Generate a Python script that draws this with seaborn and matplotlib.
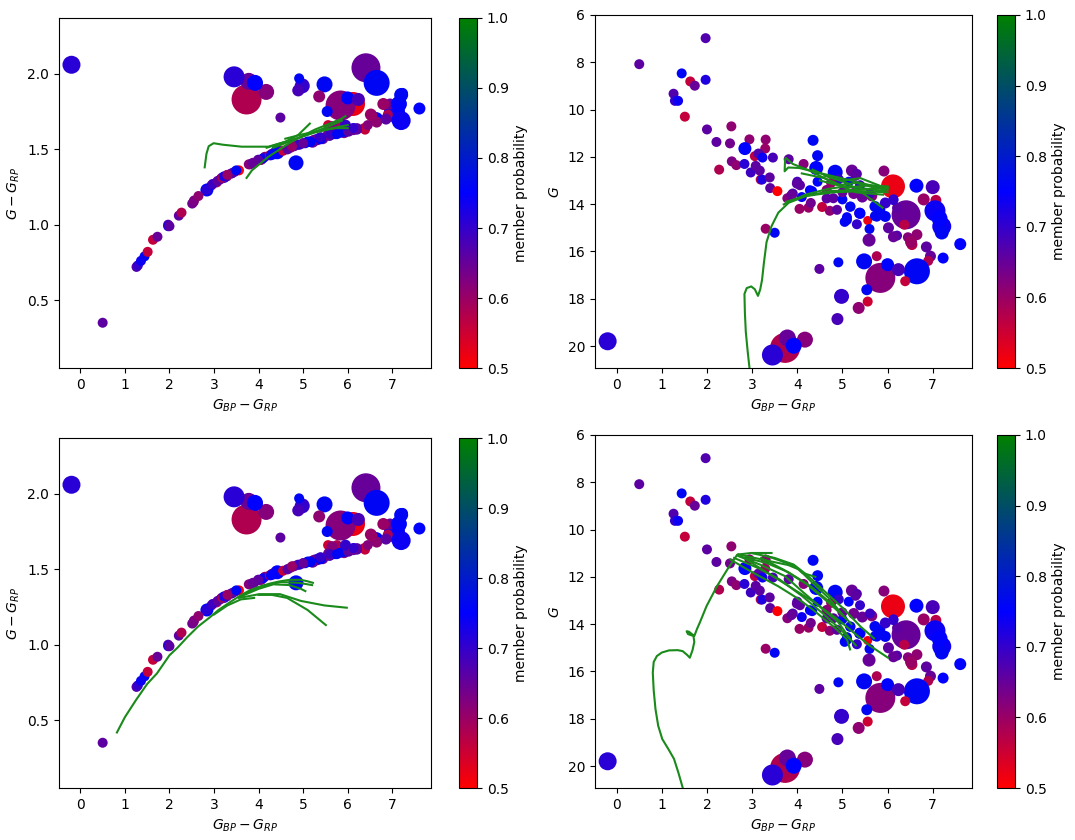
# Colour-magnitude / colour-colour diagrams of cluster members with isochrone tracks
import numpy as np
import pandas as pd
import matplotlib
matplotlib.use("Agg")
import matplotlib.pyplot as plt
from matplotlib.colors import LinearSegmentedColormap, Normalize
from matplotlib.cm import ScalarMappable
import seaborn as sns

# --- stars: colour BP-RP, colour G-RP, magnitude G, membership probability, dot diameter (px)
bp_rp = [0.50, 1.97, 1.44, 1.63, 1.73, 1.97, 1.26, 1.29, 1.36, 1.51,
         2.00, 2.54, 2.21, 2.51, 2.94, 3.30, 2.84, 3.29, 3.06, 3.14,
         3.23, 3.46, 2.27, 2.55, 2.65, 2.83, 2.97, 3.08, 3.17, 3.19,
         3.22, 3.39, 3.40, 3.56, 3.30, 3.50, 3.81, 4.35, 4.45, 4.42,
         4.14, 4.84, 5.21, 5.32, 5.92, 6.12, 6.64, 7.00, 7.07, 7.05,
         7.20, 6.41, 6.37, 7.61, 7.23, 6.95, 6.90, 6.65, 5.84, 5.48,
         5.76, 6.00, 6.24, 6.39, 5.54, 4.98, 5.56, 5.36, 4.89, 4.49,
         4.91, 3.73, 3.78, 4.17, 3.45, 3.92, -0.20, 3.78, 3.90, 4.00,
         4.06, 4.05, 4.10, 4.25, 4.30, 4.33, 4.45, 4.55, 4.65, 4.72,
         4.80, 4.88, 4.92, 5.00, 5.05, 5.10, 5.14, 5.18, 5.25, 5.32,
         5.38, 5.44, 5.56, 5.60, 5.59, 5.72, 5.72, 5.84, 5.95, 6.02,
         6.21, 6.13, 6.21, 6.54, 6.65, 6.86, 5.65, 5.95, 6.45, 7.15,
         7.20, 6.80, 6.52, 5.29, 3.99, 3.87, 5.17, 5.39, 5.10, 6.13,
         4.65, 5.39, 5.61, 4.28, 6.13, 5.76, 5.00, 4.75]
g_rp = [0.35, 1.00, 0.79, 0.90, 0.92, 0.99, 0.72, 0.73, 0.76, 0.82,
        0.99, 1.15, 1.06, 1.14, 1.26, 1.33, 1.23, 1.32, 1.28, 1.30,
        1.31, 1.35, 1.08, 1.16, 1.19, 1.23, 1.27, 1.29, 1.31, 1.31,
        1.32, 1.34, 1.34, 1.36, 1.33, 1.36, 1.40, 1.47, 1.48, 1.48,
        1.45, 1.41, 1.55, 1.56, 1.61, 1.80, 1.70, 1.73, 1.74, 1.75,
        1.69, 2.04, 1.64, 1.77, 1.87, 1.80, 1.73, 1.94, 1.79, 1.93,
        1.66, 1.84, 1.83, 1.63, 1.75, 1.92, 1.66, 1.85, 1.89, 1.71,
        1.97, 1.83, 1.95, 1.88, 1.98, 1.94, 2.06, 1.40, 1.41, 1.43,
        1.43, 1.43, 1.44, 1.46, 1.47, 1.47, 1.48, 1.49, 1.50, 1.51,
        1.52, 1.53, 1.53, 1.54, 1.54, 1.55, 1.55, 1.55, 1.56, 1.57,
        1.57, 1.57, 1.59, 1.59, 1.60, 1.60, 1.61, 1.61, 1.62, 1.62,
        1.63, 1.64, 1.64, 1.72, 1.68, 1.70, 1.65, 1.66, 1.66, 1.80,
        1.86, 1.80, 1.73, 1.56, 1.43, 1.41, 1.55, 1.57, 1.55, 1.63,
        1.50, 1.58, 1.60, 1.46, 1.64, 1.60, 1.54, 1.52]
g_mag = [8.08, 6.98, 8.47, 8.81, 8.99, 8.74, 9.33, 9.63, 9.63, 10.30,
         10.84, 10.71, 11.37, 11.43, 11.26, 11.27, 11.65, 11.65, 11.97, 11.86,
         12.03, 12.03, 12.54, 12.19, 12.35, 12.30, 12.66, 12.38, 12.58, 12.96,
         12.96, 12.87, 13.32, 13.45, 15.04, 15.21, 12.10, 11.30, 11.95, 12.47,
         12.30, 12.65, 12.58, 12.72, 12.60, 13.25, 13.22, 13.28, 13.84, 14.28,
         14.94, 14.45, 14.87, 15.69, 16.28, 16.20, 16.40, 16.84, 17.12, 16.42,
         16.20, 16.56, 16.77, 17.26, 17.62, 17.90, 18.12, 18.39, 18.86, 16.74,
         16.46, 20.08, 19.66, 19.73, 20.38, 19.99, 19.80, 13.75, 13.55, 13.05,
         13.20, 14.20, 13.70, 14.15, 13.95, 13.45, 13.05, 14.12, 13.40, 14.28,
         13.75, 14.24, 12.95, 13.80, 14.75, 14.55, 13.05, 14.10, 13.55, 14.85,
         14.38, 13.70, 14.69, 15.05, 15.52, 14.50, 14.10, 14.24, 14.52, 15.00,
         15.33, 13.80, 14.16, 15.71, 15.29, 15.81, 13.65, 13.95, 15.40, 14.60,
         15.20, 13.80, 15.60, 12.80, 13.13, 13.62, 14.11, 14.39, 14.67, 15.38,
         13.76, 13.20, 13.55, 13.41, 13.83, 14.53, 13.50, 13.10]
member_prob = [0.66, 0.67, 0.76, 0.56, 0.65, 0.72, 0.67, 0.70, 0.74, 0.56,
               0.66, 0.61, 0.66, 0.64, 0.61, 0.61, 0.75, 0.60, 0.57, 0.67,
               0.74, 0.68, 0.58, 0.63, 0.61, 0.71, 0.69, 0.66, 0.66, 0.58,
               0.72, 0.66, 0.66, 0.50, 0.60, 0.76, 0.66, 0.76, 0.76, 0.75,
               0.62, 0.76, 0.65, 0.67, 0.62, 0.52, 0.75, 0.68, 0.57, 0.74,
               0.74, 0.65, 0.57, 0.75, 0.75, 0.65, 0.58, 0.76, 0.62, 0.76,
               0.58, 0.75, 0.68, 0.56, 0.76, 0.70, 0.55, 0.61, 0.68, 0.66,
               0.76, 0.58, 0.65, 0.62, 0.71, 0.75, 0.71, 0.62, 0.67, 0.68,
               0.66, 0.60, 0.74, 0.60, 0.64, 0.76, 0.75, 0.56, 0.62, 0.61,
               0.66, 0.66, 0.70, 0.76, 0.76, 0.75, 0.75, 0.76, 0.64, 0.70,
               0.70, 0.65, 0.52, 0.76, 0.65, 0.76, 0.76, 0.76, 0.76, 0.66,
               0.67, 0.74, 0.66, 0.57, 0.61, 0.66, 0.62, 0.70, 0.62, 0.75,
               0.76, 0.60, 0.60, 0.66, 0.66, 0.65, 0.76, 0.75, 0.76, 0.65,
               0.66, 0.70, 0.69, 0.75, 0.70, 0.76, 0.65, 0.60]
dot_px = [10, 10, 10, 10, 10, 10, 10, 10, 10, 10,
          10, 10, 10, 10, 10, 10, 13, 10, 10, 10,
          10, 10, 10, 10, 10, 10, 10, 10, 10, 10,
          10, 10, 10, 10, 10, 10, 10, 11, 11, 14,
          10, 15, 12, 10, 11, 24, 14, 14, 11, 21,
          19, 29, 10, 12, 11, 11, 10, 26, 30, 16,
          10, 13, 13, 10, 11, 15, 10, 12, 12, 10,
          10, 30, 17, 16, 21, 16, 18, 10, 10, 10,
          10, 10, 10, 10, 10, 10, 10, 10, 10, 10,
          10, 10, 10, 10, 10, 10, 10, 10, 11, 10,
          11, 11, 9, 10, 13, 10, 11, 10, 11, 11,
          10, 10, 10, 11, 11, 11, 11, 11, 10, 16,
          14, 12, 12, 10, 10, 10, 10, 11, 10, 11,
          10, 10, 10, 10, 10, 10, 10, 10]

# --- isochrone tracks, top row (fit 1)
top_ccd_tracks = [
    ([2.79, 2.83, 2.88, 2.99, 3.20, 3.62, 4.22, 4.60, 4.89, 5.15],
     [1.38, 1.47, 1.52, 1.54, 1.53, 1.517, 1.517, 1.55, 1.595, 1.67]),
    ([3.73, 3.85, 4.22, 4.74, 5.26, 5.85, 5.95],
     [1.31, 1.36, 1.45, 1.55, 1.63, 1.70, 1.72]),
    ([4.18, 4.72, 5.25, 5.70, 6.00], [1.51, 1.56, 1.61, 1.64, 1.64]),
    ([4.33, 4.95, 5.56, 5.87], [1.51, 1.58, 1.65, 1.69]),
    ([4.60, 5.00, 5.50, 6.00], [1.57, 1.60, 1.63, 1.66]),
]
top_cmd_tracks = [
    ([2.94, 2.90, 2.86, 2.84, 2.83, 2.88, 2.98, 3.06, 3.13, 3.18, 3.22, 3.26, 3.32,
      3.43, 3.58, 3.81, 4.19, 4.72, 5.48, 6.01],
     [20.9, 20.2, 19.4, 18.6, 17.8, 17.55, 17.48, 17.6, 17.88, 17.6, 17.2, 16.5, 15.6,
      14.93, 14.36, 13.94, 13.66, 13.45, 13.38, 13.31]),
    ([3.73, 3.72, 3.80, 4.04, 4.49, 5.10, 5.86], [12.11, 12.61, 12.45, 12.47, 12.68, 12.96, 13.31]),
    ([3.70, 4.19, 4.70, 5.10, 5.93], [14.01, 13.59, 13.35, 13.24, 13.45]),
    ([4.34, 4.70, 5.10, 5.50, 5.89], [12.54, 12.85, 13.10, 13.60, 14.15]),
    ([4.50, 4.90, 5.30, 5.70, 6.00], [13.00, 13.20, 13.10, 13.30, 13.40]),
    ([3.75, 3.90, 4.30, 4.80, 5.30, 5.90], [12.05, 12.30, 12.60, 13.10, 13.50, 13.60]),
    ([3.75, 4.20, 4.80, 5.40, 6.00], [13.90, 13.65, 13.50, 13.45, 13.50]),
    ([4.10, 4.60, 5.10, 5.60, 6.00], [12.70, 12.90, 13.30, 13.20, 13.25]),
    ([4.60, 5.00, 5.40, 5.80], [12.80, 13.00, 12.90, 13.20]),
]

# --- isochrone tracks, bottom row (fit 2)
bottom_ccd_tracks = [
    ([0.82, 1.00, 1.25, 1.50, 1.72, 2.00, 2.18, 2.40, 2.64, 2.90, 3.10, 3.35, 3.56,
      3.80, 4.02, 4.25, 4.48, 4.70, 4.95, 5.10, 5.22],
     [0.418, 0.52, 0.634, 0.74, 0.81, 0.93, 0.98, 1.05, 1.12, 1.18, 1.23, 1.28, 1.32,
      1.36, 1.385, 1.405, 1.42, 1.43, 1.43, 1.42, 1.41]),
    ([3.56, 4.02, 4.48, 4.95, 5.48, 5.98], [1.31, 1.335, 1.335, 1.29, 1.26, 1.245]),
    ([4.00, 4.30, 4.64, 5.10, 5.51], [1.33, 1.33, 1.31, 1.23, 1.13]),
    ([3.60, 4.00, 4.33, 4.70, 4.95, 5.05], [1.32, 1.37, 1.40, 1.395, 1.37, 1.355]),
    ([3.70, 4.10, 4.50, 4.90, 5.20], [1.34, 1.39, 1.415, 1.41, 1.395]),
    ([3.00, 3.30, 3.60, 3.90], [1.20, 1.26, 1.30, 1.31]),
]
bottom_cmd_tracks = [
    ([1.46, 1.37, 1.27, 1.15, 1.01, 0.92, 0.86, 0.82, 0.80, 0.82, 0.89, 1.00, 1.16,
      1.35, 1.46, 1.56, 1.62, 1.68, 1.72, 1.70, 1.58, 1.55, 1.60, 1.72, 1.78, 1.84,
      1.99, 2.22, 2.45, 2.67, 2.98, 3.43],
     [20.9, 20.3, 19.7, 19.3, 18.86, 18.3, 17.6, 16.8, 16.05, 15.6, 15.35, 15.2, 15.11,
      15.1, 15.14, 15.3, 15.42, 15.1, 14.75, 14.5, 14.42, 14.3, 14.32, 14.5, 14.2, 13.94,
      13.24, 12.4, 11.69, 11.06, 10.99, 10.99]),
    ([2.52, 3.00, 3.58, 4.00, 4.34, 4.80, 5.10, 5.17], [11.27, 11.8, 12.4, 12.9, 13.38, 14.1, 14.64, 15.07]),
    ([2.67, 3.20, 3.73, 4.10, 4.49, 4.90, 5.25, 5.60, 6.01],
     [11.1, 11.5, 11.97, 12.6, 13.24, 13.8, 14.36, 14.9, 15.42]),
    ([2.70, 3.30, 3.80, 4.04, 4.34, 4.70, 5.00], [11.05, 11.3, 11.5, 11.69, 12.26, 12.9, 13.6]),
    ([3.00, 3.50, 3.92, 4.20, 4.60, 5.00, 5.40, 5.70], [11.0, 11.2, 11.48, 11.9, 12.6, 13.3, 14.1, 14.6]),
    ([3.30, 3.60, 3.95, 4.11, 4.40], [11.1, 11.3, 11.55, 11.83, 12.0]),
    ([2.90, 3.40, 3.90, 4.40, 4.90, 5.20], [11.3, 11.9, 12.5, 13.1, 13.9, 14.7]),
    ([2.60, 3.10, 3.60, 4.10, 4.60, 5.00, 5.30], [11.2, 11.6, 12.1, 12.8, 13.6, 14.3, 14.9]),
    ([3.20, 3.70, 4.20, 4.70, 5.10], [11.2, 11.7, 12.3, 13.1, 13.8]),
    ([2.75, 3.30, 3.80, 4.30, 4.80, 5.20], [11.15, 11.4, 11.8, 12.4, 13.2, 14.0]),
]

stars = pd.DataFrame({"bp_rp": bp_rp, "g_rp": g_rp, "g": g_mag, "prob": member_prob})
stars["area"] = (0.72 * np.array(dot_px)) ** 2  # px diameter -> points^2 at dpi 100

cmap = LinearSegmentedColormap.from_list("prob", ["red", "blue", "green"])
norm = Normalize(vmin=0.5, vmax=1.0)
amin, amax = stars["area"].min(), stars["area"].max()

fig = plt.figure(figsize=(10.75, 8.4), dpi=100)
W, H = 1075, 840


def box(x0, y0, x1, y1):
    return [x0 / W, 1 - y1 / H, (x1 - x0) / W, (y1 - y0) / H]


panels = [
    # (axes box, colorbar box, y column, tracks, ylim, ylabel)
    (box(59, 18, 431, 368), box(459, 18, 477, 368), "g_rp", top_ccd_tracks, (0.05, 2.37), r"$G - G_{RP}$"),
    (box(595, 15, 972, 368), box(997, 15, 1015, 368), "g", top_cmd_tracks, (20.93, 6.0), r"$G$"),
    (box(59, 438, 431, 788), box(459, 438, 477, 788), "g_rp", bottom_ccd_tracks, (0.05, 2.37), r"$G - G_{RP}$"),
    (box(595, 435, 972, 788), box(997, 435, 1015, 788), "g", bottom_cmd_tracks, (20.93, 6.0), r"$G$"),
]

for ax_box, cb_box, ycol, tracks, ylim, ylabel in panels:
    ax = fig.add_axes(ax_box)
    cax = fig.add_axes(cb_box)
    sns.scatterplot(data=stars, x="bp_rp", y=ycol, hue="prob", palette=cmap, hue_norm=norm,
                    size="area", sizes=(amin, amax), size_norm=(amin, amax),
                    linewidth=0, legend=False, ax=ax)
    for tx, ty in tracks:
        sns.lineplot(x=tx, y=ty, sort=False, estimator=None, color="#1a8a1a", lw=1.5, ax=ax, zorder=3)
    ax.set_xlim(-0.48, 7.87)
    ax.set_ylim(*ylim)
    ax.set_xticks(range(0, 8))
    ax.set_xlabel(r"$G_{BP} - G_{RP}$")
    ax.set_ylabel(ylabel)
    cb = fig.colorbar(ScalarMappable(norm=norm, cmap=cmap), cax=cax)
    cb.set_label("member probability")
    cb.set_ticks([0.5, 0.6, 0.7, 0.8, 0.9, 1.0])

fig.savefig("out.png", dpi=100)
